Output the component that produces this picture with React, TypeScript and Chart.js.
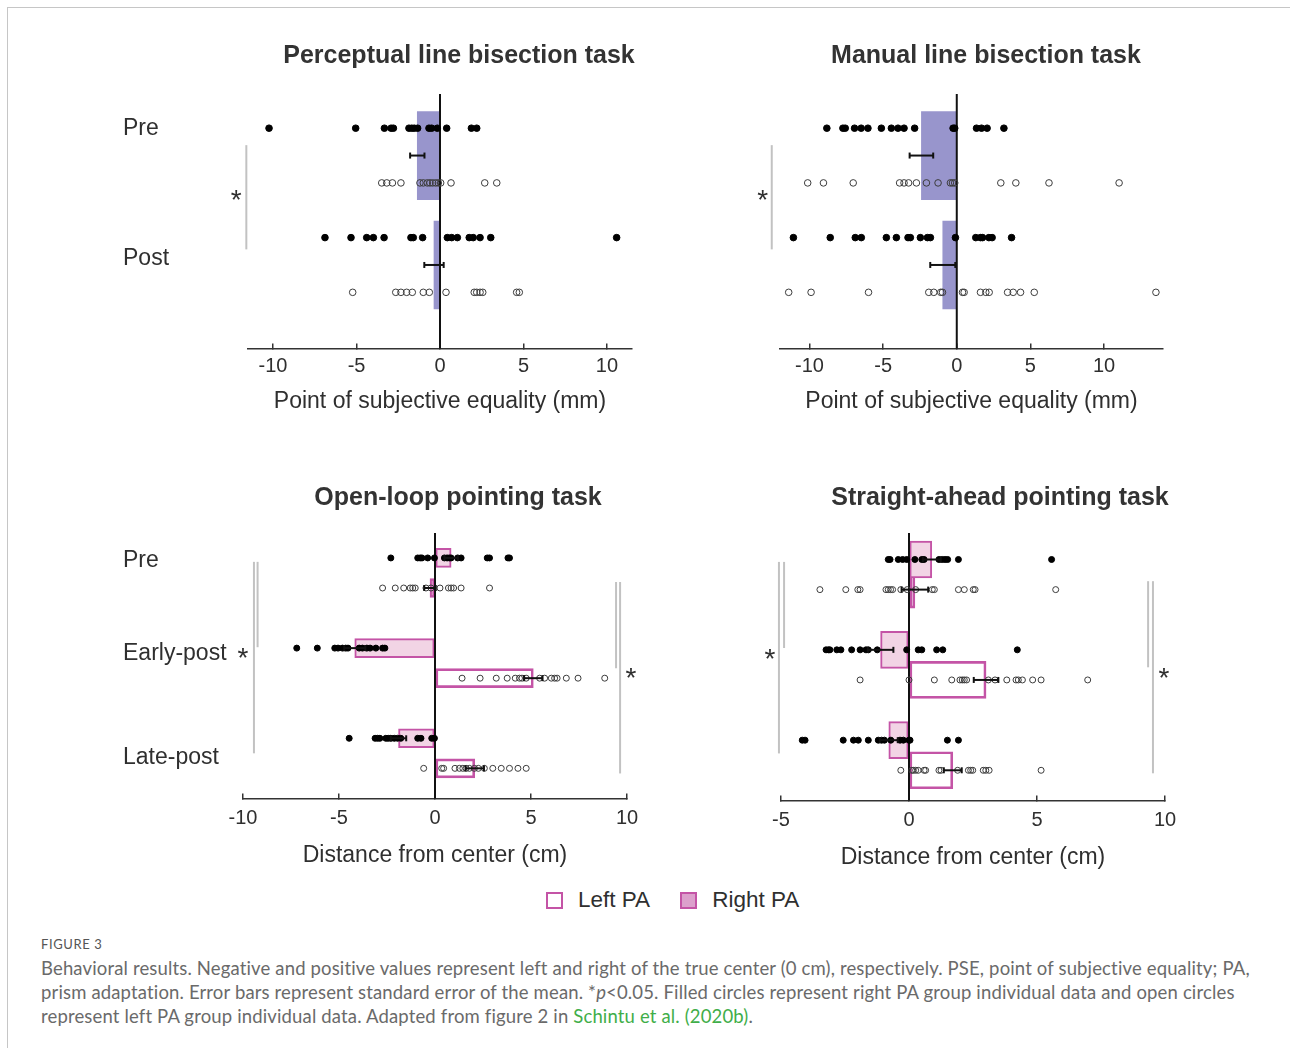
import React, { useEffect, useRef } from 'react';
import { Chart, registerables } from 'chart.js';

Chart.register(...registerables);

const FONT = '"Liberation Sans", Arial, Helvetica, sans-serif';
const INK = '#2f2f2f';
const PURPLE = 'rgb(152, 149, 204)';
const PINK_FILL = 'rgb(242, 212, 229)';
const MAGENTA = 'rgb(196, 84, 166)';

// ---------------- Panel A: Perceptual line bisection ----------------
const plbTitle = 'Perceptual line bisection task';
const plbAxisTitle = 'Point of subjective equality (mm)';
const plbTicks = [-10, -5, 0, 5, 10];
const plbRange = [-11.5, 11.5];
const plbRows = [-0.25, 9.05];
const plbGroups = ['Pre', 'Post'];
const plbGroupPos = [1, 5.76];
const plbFilledRows = [1, 5];
const plbMeanRows = [2, 6];
const plbOpenRows = [3, 7];
const plbMeans = [-1.36, -0.36];
const plbSE = [0.43, 0.58];
const plbPreFilled = [-10.24, -5.05, -3.33, -2.93, -2.79, -1.86, -1.69, -1.54, -1.34, -0.66, -0.5, -0.16, 0.4, 1.88, 2.2];
const plbPreOpen = [-3.49, -3.19, -2.85, -2.34, -1.2, -1.0, -0.76, -0.6, -0.44, -0.26, -0.1, 0.04, 0.66, 2.68, 3.4];
const plbPostFilled = [-6.89, -5.33, -4.39, -3.99, -3.35, -1.74, -1.6, -1.04, 0.44, 0.7, 1.04, 1.75, 1.99, 2.4, 3.04, 10.58];
const plbPostOpen = [-5.23, -2.65, -2.34, -2.0, -1.66, -1.0, -0.64, 0.36, 2.05, 2.2, 2.4, 2.56, 4.59, 4.75];
const plbBracketX = [-11.6];
const plbBracketY1 = [1.62];
const plbBracketY2 = [5.43];
const plbStarX = [-12.2];
const plbStarY = [3.45];

// ---------------- Panel B: Manual line bisection ----------------
const mlbTitle = 'Manual line bisection task';
const mlbAxisTitle = 'Point of subjective equality (mm)';
const mlbTicks = [-10, -5, 0, 5, 10];
const mlbRange = [-12, 14];
const mlbRows = [-0.25, 9.05];
const mlbFilledRows = [1, 5];
const mlbMeanRows = [2, 6];
const mlbOpenRows = [3, 7];
const mlbMeans = [-2.4, -0.95];
const mlbSE = [0.8, 0.85];
const mlbPreFilled = [-8.82, -7.73, -7.57, -6.94, -6.49, -6.03, -5.12, -4.44, -3.99, -3.58, -2.86, -0.25, -0.14, 1.34, 1.68, 2.06, 3.2];
const mlbPreOpen = [-10.12, -9.05, -7.03, -3.88, -3.58, -3.27, -2.74, -2.06, -1.27, -0.43, -0.29, -0.14, 2.99, 4.01, 6.26, 11.02];
const mlbPostFilled = [-11.09, -8.59, -6.89, -6.48, -4.78, -4.1, -3.31, -3.15, -2.47, -1.99, -1.79, -0.09, 1.29, 1.61, 1.75, 2.18, 2.4, 3.72];
const mlbPostOpen = [-11.41, -9.89, -5.99, -1.9, -1.56, -1.09, -0.97, 0.39, 0.5, 1.61, 1.97, 2.2, 3.45, 3.83, 4.33, 5.26, 13.52];
const mlbBracketX = [-12.56];
const mlbBracketY1 = [1.62];
const mlbBracketY2 = [5.43];
const mlbStarX = [-13.17];
const mlbStarY = [3.45];

// ---------------- Panel C: Open-loop pointing ----------------
const olpTitle = 'Open-loop pointing task';
const olpAxisTitle = 'Distance from center (cm)';
const olpTicks = [-10, -5, 0, 5, 10];
const olpRange = [-10, 10];
const olpRows = [0.17, 9];
const olpGroups = ['Pre', 'Early-post', 'Late-post'];
const olpGroupPos = [1.1, 4.17, 7.63];
const olpRightRows = [1, 4, 7];
const olpLeftRows = [2, 5, 8];
const olpRightMeans = [0.84, -4.18, -1.9];
const olpRightSE = [0.35, 0.55, 0.4];
const olpLeftMeans = [-0.26, 5.12, 2.07];
const olpLeftSE = [0.3, 0.48, 0.48];
const olpPreRight = [-2.3, -0.9, -0.77, -0.68, -0.38, -0.03, 0.49, 0.63, 0.75, 0.84, 1.18, 1.36, 2.72, 2.84, 3.8, 3.88];
const olpPreLeft = [-2.73, -2.07, -1.63, -1.29, -1.16, -1.03, -0.47, -0.21, 0.26, 0.7, 0.84, 0.97, 1.36, 2.84];
const olpEarlyRight = [-7.2, -6.13, -5.22, -5.05, -4.82, -4.65, -4.53, -3.95, -3.78, -3.55, -3.38, -3.08, -2.73, -2.61];
const olpEarlyLeft = [1.41, 2.35, 3.19, 3.76, 4.18, 4.4, 4.53, 4.75, 5.45, 5.71, 6.06, 6.23, 6.36, 6.84, 7.45, 8.84];
const olpLateRight = [-4.47, -3.12, -2.99, -2.87, -2.56, -2.44, -2.3, -2.12, -1.95, -1.78, -0.9, -0.73, -0.17, -0.03];
const olpLateLeft = [-0.59, 0.35, 0.45, 1.04, 1.27, 1.45, 1.62, 1.79, 2.05, 2.26, 2.57, 3.01, 3.45, 3.88, 4.32, 4.75];
const olpBracketX = [-9.43, -9.24, 9.43, 9.64];
const olpBracketY1 = [1.13, 1.13, 1.8, 1.8];
const olpBracketY2 = [7.5, 3.97, 4.67, 8.17];
const olpStarX = [-10.0, 10.2];
const olpStarY = [4.17, 4.83];

// ---------------- Panel D: Straight-ahead pointing ----------------
const sapTitle = 'Straight-ahead pointing task';
const sapAxisTitle = 'Distance from center (cm)';
const sapTicks = [-5, 0, 5, 10];
const sapRange = [-5, 10];
const sapRows = [0.12, 9];
const sapRightRows = [1, 4, 7];
const sapLeftRows = [2, 5, 8];
const sapRightMeans = [0.89, -1.11, -0.79];
const sapRightSE = [0.35, 0.5, 0.35];
const sapLeftMeans = [0.23, 3.01, 1.71];
const sapLeftSE = [0.52, 0.48, 0.35];
const sapPreRight = [-0.81, -0.74, -0.42, -0.25, -0.09, 0.23, 0.5, 0.59, 1.17, 1.3, 1.41, 1.51, 1.93, 5.57];
const sapPreLeft = [-3.48, -2.47, -2.0, -1.91, -0.9, -0.81, -0.72, -0.64, -0.32, -0.07, 0.26, 0.91, 0.99, 1.93, 2.16, 2.51, 2.58, 5.73];
const sapEarlyRight = [-3.24, -3.15, -3.09, -2.82, -2.66, -2.24, -1.91, -1.68, -1.59, -1.24, -0.09, 0.36, 0.5, 1.08, 1.32, 4.23];
const sapEarlyLeft = [-1.91, 0, 0.99, 1.67, 1.99, 2.08, 2.16, 2.25, 3.1, 3.36, 3.82, 4.18, 4.27, 4.43, 4.83, 5.16, 6.98];
const sapLateRight = [-4.17, -4.06, -2.57, -2.17, -1.98, -1.59, -1.2, -1.07, -0.96, -0.71, -0.35, -0.22, 0.0, 0.04, 1.5, 1.93];
const sapLateLeft = [-0.32, 0.11, 0.17, 0.26, 0.36, 0.59, 0.65, 1.17, 1.25, 1.9, 2.32, 2.41, 2.49, 2.9, 3.0, 3.13, 5.16];
const sapBracketX = [-5.08, -4.88, 9.34, 9.53];
const sapBracketY1 = [1.08, 1.08, 1.72, 1.72];
const sapBracketY2 = [7.44, 3.94, 4.58, 8.1];
const sapStarX = [-5.43, 9.96];
const sapStarY = [4.14, 4.78];

// ---------------- Legend ----------------
const legendLabels = ['Left PA', 'Right PA'];

type PointRow = { y: number; values: number[]; filled: boolean };
type BarSet = { rows: number[]; values: number[]; fill: string; stroke: string; width: number; order: number };
type Box = {
  left: number; top: number; width: number; height: number; yw: number; yr: number;
  titleTop: number; titleBottom: number; tickPad: number; barThickness: number; capR: number; dotR: number;
};
type Spec = {
  title: string; axisTitle: string; ticks: number[]; range: number[]; rows: number[];
  catLabels: string[]; catPos: number[];
  points: PointRow[]; bars: BarSet[];
  errRows: number[]; errMeans: number[]; errSE: number[];
  bracketX: number[]; bracketY1: number[]; bracketY2: number[];
  starX: number[]; starY: number[];
  box: Box;
};

const specs: Spec[] = [
  {
    title: plbTitle, axisTitle: plbAxisTitle, ticks: plbTicks, range: plbRange, rows: plbRows,
    catLabels: plbGroups, catPos: plbGroupPos,
    points: [
      { y: plbFilledRows[0], values: plbPreFilled, filled: true },
      { y: plbOpenRows[0], values: plbPreOpen, filled: false },
      { y: plbFilledRows[1], values: plbPostFilled, filled: true },
      { y: plbOpenRows[1], values: plbPostOpen, filled: false },
    ],
    bars: [{ rows: plbMeanRows, values: plbMeans, fill: PURPLE, stroke: PURPLE, width: 0, order: 6 }],
    errRows: plbMeanRows, errMeans: plbMeans, errSE: plbSE,
    bracketX: plbBracketX, bracketY1: plbBracketY1, bracketY2: plbBracketY2, starX: plbStarX, starY: plbStarY,
    box: { left: 123, top: 20, width: 672, height: 399, yw: 125, yr: 163, titleTop: 21, titleBottom: 23, tickPad: 11, barThickness: 88, capR: 3, dotR: 3.3 },
  },
  {
    title: mlbTitle, axisTitle: mlbAxisTitle, ticks: mlbTicks, range: mlbRange, rows: mlbRows,
    catLabels: [], catPos: [],
    points: [
      { y: mlbFilledRows[0], values: mlbPreFilled, filled: true },
      { y: mlbOpenRows[0], values: mlbPreOpen, filled: false },
      { y: mlbFilledRows[1], values: mlbPostFilled, filled: true },
      { y: mlbOpenRows[1], values: mlbPostOpen, filled: false },
    ],
    bars: [{ rows: mlbMeanRows, values: mlbMeans, fill: PURPLE, stroke: PURPLE, width: 0, order: 6 }],
    errRows: mlbMeanRows, errMeans: mlbMeans, errSE: mlbSE,
    bracketX: mlbBracketX, bracketY1: mlbBracketY1, bracketY2: mlbBracketY2, starX: mlbStarX, starY: mlbStarY,
    box: { left: 720, top: 20, width: 532, height: 399, yw: 60, yr: 89, titleTop: 21, titleBottom: 23, tickPad: 11, barThickness: 88, capR: 3, dotR: 3.3 },
  },
  {
    title: olpTitle, axisTitle: olpAxisTitle, ticks: olpTicks, range: olpRange, rows: olpRows,
    catLabels: olpGroups, catPos: olpGroupPos,
    points: [
      { y: olpRightRows[0], values: olpPreRight, filled: true },
      { y: olpLeftRows[0], values: olpPreLeft, filled: false },
      { y: olpRightRows[1], values: olpEarlyRight, filled: true },
      { y: olpLeftRows[1], values: olpEarlyLeft, filled: false },
      { y: olpRightRows[2], values: olpLateRight, filled: true },
      { y: olpLeftRows[2], values: olpLateLeft, filled: false },
    ],
    bars: [
      { rows: olpLeftRows, values: olpLeftMeans, fill: 'rgba(255,255,255,0)', stroke: MAGENTA, width: 2, order: 7 },
      { rows: olpRightRows, values: olpRightMeans, fill: PINK_FILL, stroke: MAGENTA, width: 2, order: 6 },
    ],
    errRows: [...olpRightRows, ...olpLeftRows], errMeans: [...olpRightMeans, ...olpLeftMeans], errSE: [...olpRightSE, ...olpLeftSE],
    bracketX: olpBracketX, bracketY1: olpBracketY1, bracketY2: olpBracketY2, starX: olpStarX, starY: olpStarY,
    box: { left: 123, top: 460, width: 670, height: 413, yw: 120, yr: 166, titleTop: 23, titleBottom: 20, tickPad: 13, barThickness: 19, capR: 3, dotR: 3 },
  },
  {
    title: sapTitle, axisTitle: sapAxisTitle, ticks: sapTicks, range: sapRange, rows: sapRows,
    catLabels: [], catPos: [],
    points: [
      { y: sapRightRows[0], values: sapPreRight, filled: true },
      { y: sapLeftRows[0], values: sapPreLeft, filled: false },
      { y: sapRightRows[1], values: sapEarlyRight, filled: true },
      { y: sapLeftRows[1], values: sapEarlyLeft, filled: false },
      { y: sapRightRows[2], values: sapLateRight, filled: true },
      { y: sapLeftRows[2], values: sapLateLeft, filled: false },
    ],
    bars: [
      { rows: sapLeftRows, values: sapLeftMeans, fill: 'rgba(255,255,255,0)', stroke: MAGENTA, width: 2, order: 7 },
      { rows: sapRightRows, values: sapRightMeans, fill: PINK_FILL, stroke: MAGENTA, width: 2, order: 6 },
    ],
    errRows: [...sapRightRows, ...sapLeftRows], errMeans: [...sapRightMeans, ...sapLeftMeans], errSE: [...sapRightSE, ...sapLeftSE],
    bracketX: sapBracketX, bracketY1: sapBracketY1, bracketY2: sapBracketY2, starX: sapStarX, starY: sapStarY,
    box: { left: 740, top: 460, width: 520, height: 415, yw: 41, yr: 95, titleTop: 23, titleBottom: 20, tickPad: 13, barThickness: 37, capR: 3, dotR: 3 },
  },
];

function Panel({ spec }: { spec: Spec }) {
  const ref = useRef<HTMLCanvasElement | null>(null);
  useEffect(() => {
    if (!ref.current) return;
    const b = spec.box;
    const datasets: any[] = [];
    spec.bars.forEach((bs) => {
      datasets.push({
        type: 'bar',
        indexAxis: 'y',
        data: bs.rows.map((y, i) => ({ x: bs.values[i], y })),
        backgroundColor: bs.fill,
        borderColor: bs.stroke,
        borderWidth: bs.width,
        borderSkipped: false,
        barThickness: b.barThickness,
        grouped: false,
        order: bs.order,
      });
    });
    datasets.push({
      type: 'line',
      data: [{ x: 0, y: spec.rows[0] }, { x: 0, y: spec.rows[1] }],
      borderColor: '#111',
      borderWidth: 2,
      pointRadius: 0,
      order: 4,
      clip: false,
    });
    spec.points.forEach((p) => {
      datasets.push({
        type: 'scatter',
        data: p.values.map((v) => ({ x: v, y: p.y })),
        showLine: false,
        pointRadius: b.dotR,
        pointBackgroundColor: p.filled ? '#000' : 'rgba(255,255,255,0)',
        pointBorderColor: p.filled ? '#000' : '#3c3c3c',
        pointBorderWidth: 1,
        order: 2,
        clip: false,
      });
    });
    spec.errRows.forEach((y, i) => {
      const m = spec.errMeans[i];
      const se = spec.errSE[i];
      datasets.push({
        type: 'line',
        data: [{ x: m - se, y }, { x: m + se, y }],
        borderColor: '#111',
        borderWidth: 2,
        pointStyle: 'line',
        pointRotation: 90,
        pointRadius: b.capR,
        pointBorderWidth: 2,
        pointBorderColor: '#111',
        order: 1,
        clip: false,
      });
    });

    const sigPlugin = {
      id: 'sigMarks',
      afterDatasetsDraw(chart: any) {
        const ctx = chart.ctx;
        const xs = chart.scales.x;
        const ys = chart.scales.y;
        ctx.save();
        ctx.strokeStyle = '#c2c2c2';
        ctx.lineWidth = 2;
        spec.bracketX.forEach((x, i) => {
          const px = xs.getPixelForValue(x);
          ctx.beginPath();
          ctx.moveTo(px, ys.getPixelForValue(spec.bracketY1[i]));
          ctx.lineTo(px, ys.getPixelForValue(spec.bracketY2[i]));
          ctx.stroke();
        });
        ctx.fillStyle = INK;
        ctx.font = `28px ${FONT}`;
        ctx.textAlign = 'center';
        ctx.textBaseline = 'middle';
        spec.starX.forEach((x, i) => {
          ctx.fillText('*', xs.getPixelForValue(x), ys.getPixelForValue(spec.starY[i]) + 6);
        });
        ctx.restore();
      },
    };

    const chart = new Chart(ref.current, {
      type: 'scatter',
      data: { datasets },
      plugins: [sigPlugin],
      options: {
        animation: false,
        responsive: false,
        events: [],
        layout: { padding: 0 },
        plugins: {
          legend: { display: false },
          tooltip: { enabled: false },
          title: {
            display: true,
            text: spec.title,
            color: '#333',
            font: { family: FONT, size: 25, weight: 'bold', lineHeight: 1.2 },
            padding: { top: b.titleTop, bottom: b.titleBottom },
            fullSize: true,
          },
        },
        scales: {
          x: {
            type: 'linear',
            position: 'bottom',
            min: spec.range[0],
            max: spec.range[1],
            offset: false,
            afterBuildTicks: (s: any) => {
              s.ticks = spec.ticks.map((v) => ({ value: v }));
            },
            ticks: {
              color: INK,
              font: { family: FONT, size: 20, lineHeight: 1.2 },
              padding: b.tickPad,
              maxRotation: 0,
              callback: (v: any) => String(v),
            },
            grid: { display: true, offset: false, drawOnChartArea: false, drawTicks: true, tickLength: -5, color: '#333', lineWidth: 1.5 },
            border: { display: true, color: '#333', width: 1.6 },
            title: {
              display: true,
              text: spec.axisTitle,
              color: INK,
              font: { family: FONT, size: 23, lineHeight: 1.2 },
              padding: { top: -2, bottom: 4 },
            },
          },
          y: {
            type: 'linear',
            position: 'left',
            reverse: true,
            offset: false,
            min: spec.rows[0],
            max: spec.rows[1],
            afterBuildTicks: (s: any) => {
              s.ticks = spec.catPos.map((v) => ({ value: v }));
            },
            afterFit: (s: any) => {
              s.width = b.yw;
            },
            ticks: {
              display: spec.catLabels.length > 0,
              autoSkip: false,
              color: INK,
              font: { family: FONT, size: 23, lineHeight: 1.2 },
              crossAlign: 'far',
              padding: 0,
              callback: (_v: any, i: number) => spec.catLabels[i],
            },
            grid: { display: false, offset: false },
            border: { display: false },
          },
          y2: {
            type: 'linear',
            position: 'right',
            afterFit: (s: any) => {
              s.width = b.yr;
            },
            ticks: { display: false },
            grid: { display: false },
            border: { display: false },
          },
        },
      } as any,
    });
    return () => chart.destroy();
  }, [spec]);
  const b = spec.box;
  return (
    <canvas
      ref={ref}
      width={b.width}
      height={b.height}
      style={{ position: 'absolute', left: b.left, top: b.top, width: b.width, height: b.height }}
    />
  );
}

export default function App() {
  return (
    <div
      style={{
        position: 'fixed',
        left: 0,
        top: 0,
        width: 1290,
        height: 1048,
        background: '#fff',
        overflow: 'hidden',
        fontFamily: FONT,
      }}
    >
      <div
        style={{
          position: 'absolute',
          left: 7,
          top: 7,
          right: -2,
          bottom: -2,
          borderLeft: '1px solid #c6c6c6',
          borderTop: '1px solid #c6c6c6',
        }}
      />
      {specs.map((s, i) => (
        <Panel key={i} spec={s} />
      ))}
      <div style={{ position: 'absolute', left: 546, top: 885, height: 30, display: 'flex', alignItems: 'center', fontSize: 22.5, color: INK }}>
        <span style={{ display: 'inline-block', width: 13, height: 13, border: `2px solid ${MAGENTA}`, background: '#fff' }} />
        <span style={{ marginLeft: 15 }}>{legendLabels[0]}</span>
        <span style={{ display: 'inline-block', width: 13, height: 13, border: `2px solid ${MAGENTA}`, background: 'rgb(220, 160, 204)', marginLeft: 30 }} />
        <span style={{ marginLeft: 15 }}>{legendLabels[1]}</span>
      </div>
      <div style={{ position: 'absolute', left: 41, top: 935, fontFamily: 'Lato, "Noto Sans", sans-serif', fontSize: 13, letterSpacing: 0.6, color: '#555', lineHeight: '18px' }}>
        FIGURE 3
      </div>
      <div
        style={{
          position: 'absolute',
          left: 41,
          top: 956,
          fontFamily: 'Lato, "Noto Sans", sans-serif',
          fontSize: 18.5,
          letterSpacing: 0.15,
          color: '#6a6a6a',
          lineHeight: '24px',
          whiteSpace: 'nowrap',
        }}
      >
        Behavioral results. Negative and positive values represent left and right of the true center (0 cm), respectively. PSE, point of subjective equality; PA,
        <br />
        prism adaptation. Error bars represent standard error of the mean. *<i>p</i>&lt;0.05. Filled circles represent right PA group individual data and open circles
        <br />
        represent left PA group individual data. Adapted from figure 2 in <span style={{ color: '#3fae49' }}>Schintu et al. (2020b)</span>.
      </div>
    </div>
  );
}
